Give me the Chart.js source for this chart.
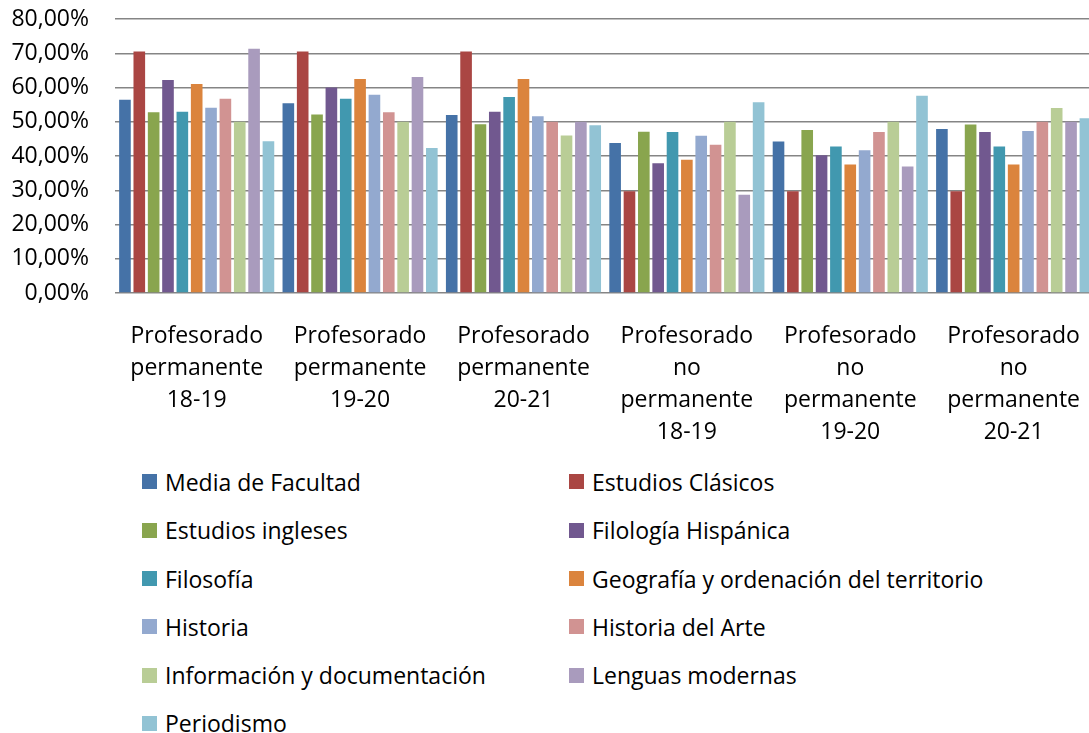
<!DOCTYPE html>
<html>
<head>
<meta charset="utf-8">
<script src="https://cdn.jsdelivr.net/npm/chart.js@4.4.0/dist/chart.umd.min.js"></script>
<style>
  html, body { margin: 0; padding: 0; background: #fff; overflow: hidden; }
  #wrap { position: relative; width: 1089px; height: 733px; overflow: hidden; }
  #chart { position: absolute; left: 0; top: 0; }
  #legend { position: absolute; left: 0; top: 0; font-family: "Open Sans", sans-serif; font-size: 23px; color: #000; }
  .item { position: absolute; display: flex; align-items: center; white-space: nowrap; height: 30px; }
  .box { width: 15px; height: 15px; margin-right: 8px; }
</style>
</head>
<body>
<div id="wrap">
  <canvas id="chart" width="1099" height="460"></canvas>
  <div id="legend"></div>
</div>
<script>
const categories = [
  ["Profesorado", "permanente", "18-19"],
  ["Profesorado", "permanente", "19-20"],
  ["Profesorado", "permanente", "20-21"],
  ["Profesorado", "no", "permanente", "18-19"],
  ["Profesorado", "no", "permanente", "19-20"],
  ["Profesorado", "no", "permanente", "20-21"]
];

const seriesNames = [
  "Media de Facultad", "Estudios Clásicos", "Estudios ingleses", "Filología Hispánica",
  "Filosofía", "Geografía y ordenación del territorio", "Historia", "Historia del Arte",
  "Información y documentación", "Lenguas modernas", "Periodismo"
];

// valores en %
const media       = [56.4, 55.4, 52.0, 43.8, 44.2, 47.9];
const clasicos    = [70.5, 70.5, 70.5, 29.7, 29.7, 29.7];
const ingleses    = [52.8, 52.1, 49.3, 47.1, 47.6, 49.2];
const hispanica   = [62.2, 60.0, 52.9, 37.9, 40.2, 47.0];
const filosofia   = [52.9, 56.7, 57.2, 47.0, 42.8, 42.8];
const geografia   = [61.0, 62.5, 62.5, 38.9, 37.5, 37.5];
const historia    = [54.1, 57.9, 51.6, 45.9, 41.7, 47.3];
const arte        = [56.7, 52.8, 50.0, 43.3, 47.0, 50.0];
const informacion = [50.0, 50.0, 46.0, 50.0, 50.0, 54.0];
const lenguas     = [71.3, 63.1, 50.0, 28.7, 36.9, 50.0];
const periodismo  = [44.3, 42.3, 49.0, 55.7, 57.6, 51.0];

const seriesValues = [media, clasicos, ingleses, hispanica, filosofia, geografia,
  historia, arte, informacion, lenguas, periodismo];

const colors = ["#4572A7", "#AA4643", "#89A54E", "#71588F", "#4198AF", "#DB843D",
  "#93A9CF", "#D19392", "#B9CD96", "#A99BBD", "#92C3D4"];

const font = { family: "'Open Sans', sans-serif", size: 23, lineHeight: "32px" };

const config = {
  type: "bar",
  data: {
    labels: categories,
    datasets: seriesNames.map((name, i) => ({
      label: name,
      data: seriesValues[i],
      backgroundColor: colors[i],
      borderWidth: 0,
      categoryPercentage: 0.966,
      barPercentage: 0.81
    }))
  },
  options: {
    responsive: false,
    animation: false,
    layout: { padding: { top: 19, left: 0, right: 0, bottom: 0 } },
    plugins: {
      legend: { display: false },
      tooltip: { enabled: false }
    },
    scales: {
      x: {
        grid: { display: false },
        border: { display: false },
        ticks: {
          color: "#000",
          font: font,
          padding: 19,
          autoSkip: false,
          minRotation: 0,
          maxRotation: 0
        },
        afterFit: (scale) => { scale.height = 167; }
      },
      y: {
        min: 0,
        max: 80,
        grid: { color: "#858585", lineWidth: 1.5, drawTicks: false },
        border: { display: false },
        ticks: {
          stepSize: 10,
          autoSkip: false,
          color: "#000",
          font: font,
          padding: 26,
          callback: (v) => v.toFixed(2).replace(".", ",") + "%"
        },
        afterFit: (scale) => {
          scale.width = 115;
          scale.paddingTop = 0;
          scale.paddingBottom = 0;
        }
      }
    }
  }
};

new Chart(document.getElementById("chart").getContext("2d"), config);

// leyenda en dos columnas
const legend = document.getElementById("legend");
const colX = [142, 569];
const rowY = [481.5, 530, 578.5, 626.5, 675, 723];
seriesNames.forEach((name, i) => {
  const el = document.createElement("div");
  el.className = "item";
  el.style.left = colX[i % 2] + "px";
  el.style.top = (rowY[Math.floor(i / 2)] - 15) + "px";
  el.innerHTML = '<span class="box" style="background:' + colors[i] + '"></span><span>' + name + '</span>';
  legend.appendChild(el);
});
</script>
</body>
</html>
